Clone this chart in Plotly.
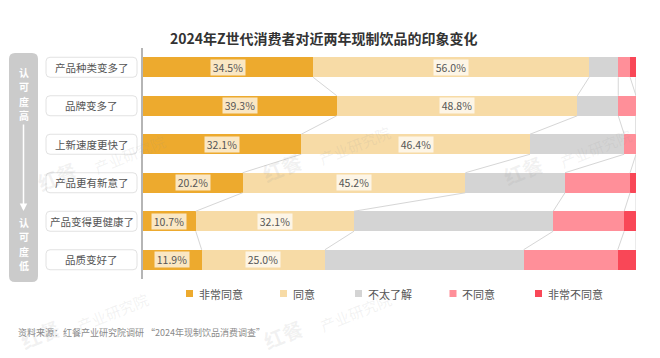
import plotly.graph_objects as go

# ---------------- data ----------------
categories = ["产品种类变多了", "品牌变多了", "上新速度更快了", "产品更有新意了", "产品变得更健康了", "品质变好了"]
series_names = ["非常同意", "同意", "不太了解", "不同意", "非常不同意"]
very_agree = [34.5, 39.3, 32.1, 20.2, 10.7, 11.9]
agree = [56.0, 48.8, 46.4, 45.2, 32.1, 25.0]
unsure = [5.9, 8.3, 19.1, 20.2, 40.4, 40.3]
disagree = [2.4, 3.6, 2.4, 13.2, 14.4, 19.1]
strongly_disagree = [1.2, 0.0, 0.0, 1.2, 2.4, 3.7]
colors = ["#EDAA2E", "#F7DBA6", "#D4D4D4", "#FF8F99", "#F94757"]
title = "2024年Z世代消费者对近两年现制饮品的印象变化"
source = "资料来源：红餐产业研究院调研 “2024年现制饮品消费调查”"
top_label = "认可度高"
bottom_label = "认可度低"

FONT = "Noto Sans CJK SC"
W, H = 660, 358
ML, MR, MT, MB = 143, 24, 48, 79
PW, PH = W - ML - MR, H - MT - MB
BAR_W = 0.52

def px_x(p):
    return (p - ML) / PW

def px_y(p):
    return 1 - (p - MT) / PH

def rrect(x0, y0, x1, y1, r):
    X = px_x
    Y = px_y
    return (f"M {X(x0+r)},{Y(y0)} L {X(x1-r)},{Y(y0)} Q {X(x1)},{Y(y0)} {X(x1)},{Y(y0+r)} "
            f"L {X(x1)},{Y(y1-r)} Q {X(x1)},{Y(y1)} {X(x1-r)},{Y(y1)} "
            f"L {X(x0+r)},{Y(y1)} Q {X(x0)},{Y(y1)} {X(x0)},{Y(y1-r)} "
            f"L {X(x0)},{Y(y0+r)} Q {X(x0)},{Y(y0)} {X(x0+r)},{Y(y0)} Z")

def note(x, y, text, size, color, xanchor="center", angle=0, **kw):
    return dict(x=px_x(x), y=px_y(y), xref="paper", yref="paper", text=text,
                xanchor=xanchor, yanchor="middle", showarrow=False, textangle=angle,
                font=dict(family=FONT, size=size, color=color), **kw)

all_series = [very_agree, agree, unsure, disagree, strongly_disagree]
rows = list(range(len(categories)))

fig = go.Figure()
for name, vals, col in zip(series_names, all_series, colors):
    fig.add_trace(go.Bar(
        y=rows, x=vals, name=name, orientation="h", width=BAR_W,
        marker=dict(color=col, line=dict(width=0)), showlegend=False,
        hoverinfo="x+name"))

cums = []
for i in rows:
    c = [0.0]
    for s in all_series:
        c.append(c[-1] + s[i])
    cums.append(c)

cx, cy = [], []
for i in rows[:-1]:
    for k in range(1, len(cums[i])):
        cx += [cums[i][k], cums[i + 1][k], None]
        cy += [i + BAR_W / 2, i + 1 - BAR_W / 2, None]
fig.add_trace(go.Scatter(x=cx, y=cy, mode="lines", line=dict(color="#D6D6D6", width=1),
                         showlegend=False, hoverinfo="skip"))

annotations = []
wm = [(282, 167), (523, 170), (57, 176), (283, 334), (40, 334)]
for (wx, wy) in wm:
    annotations.append(note(wx, wy, "<b>红餐</b>", 20, "rgba(150,150,150,0.13)", angle=-22))
    annotations.append(note(wx + 72, wy - 22, "产业研究院", 15, "rgba(150,150,150,0.12)", angle=-22))

for s_idx in (0, 1):
    for i in rows:
        v = all_series[s_idx][i]
        annotations.append(dict(
            x=cums[i][s_idx] + v / 2, y=i, xref="x", yref="y", text=f"{v:.1f}%",
            xanchor="center", yanchor="middle", width=34, height=15,
            showarrow=False, font=dict(family=FONT, size=10.5, color="#555555"),
            bgcolor="rgba(255,255,255,0.72)", borderpad=0))

shapes = []
shapes.append(dict(type="path", path=rrect(9, 53, 38, 282, 6), xref="paper", yref="paper",
                   fillcolor="#CBCBCB", line=dict(width=0), layer="below"))
for i, cat in enumerate(categories):
    yc = MT + PH / len(categories) * (i + 0.5)
    shapes.append(dict(type="path", path=rrect(46, yc - 10, 137, yc + 10, 4), xref="paper", yref="paper",
                       fillcolor="white", line=dict(color="#E2E2E2", width=1)))
    annotations.append(note(91.5, yc, cat, 10.5, "#555555"))

for j, ch in enumerate(top_label):
    annotations.append(note(23.5, 72 + 14.5 * j, f"<b>{ch}</b>", 10, "white", borderpad=0))
for j, ch in enumerate(bottom_label):
    annotations.append(note(23.5, 222 + 14.5 * j, f"<b>{ch}</b>", 10, "white", borderpad=0))
annotations.append(dict(x=px_x(23.5), y=px_y(211), xref="paper", yref="paper", text="",
                        showarrow=True, ax=0, ay=-88, arrowhead=2, arrowsize=1, arrowwidth=1.5,
                        arrowcolor="white", standoff=0, startstandoff=0))

legend_x = [189.5, 283.5, 358.5, 453, 538.5]
for name, col, lx in zip(series_names, colors, legend_x):
    shapes.append(dict(type="rect", xref="paper", yref="paper",
                       x0=px_x(lx - 3.5), x1=px_x(lx + 3.5), y0=px_y(290), y1=px_y(297),
                       fillcolor=col, line=dict(width=0)))
    annotations.append(note(lx + 7, 293.5, name, 11, "#555555", xanchor="left"))

annotations.append(note(324, 38, f"<b>{title}</b>", 14, "#333333"))
annotations.append(note(16, 332, source, 9, "#8A8A8A", xanchor="left"))

fig.update_layout(
    width=W, height=H, margin=dict(l=ML, r=MR, t=MT, b=MB),
    barmode="stack", bargap=0.48,
    paper_bgcolor="white", plot_bgcolor="white",
    font=dict(family=FONT),
    xaxis=dict(range=[0, 100], visible=False, fixedrange=True),
    yaxis=dict(range=[len(categories) - 0.5, -0.5], showticklabels=False, showgrid=False,
               zeroline=False, showline=True, linecolor="#B5B5B5", linewidth=1.5, ticks="",
               fixedrange=True),
    shapes=shapes, annotations=annotations, showlegend=False,
)

fig.write_html("out.html", config={"displayModeBar": False},
               post_script="document.body.style.margin='0';document.body.style.overflow='hidden';")
